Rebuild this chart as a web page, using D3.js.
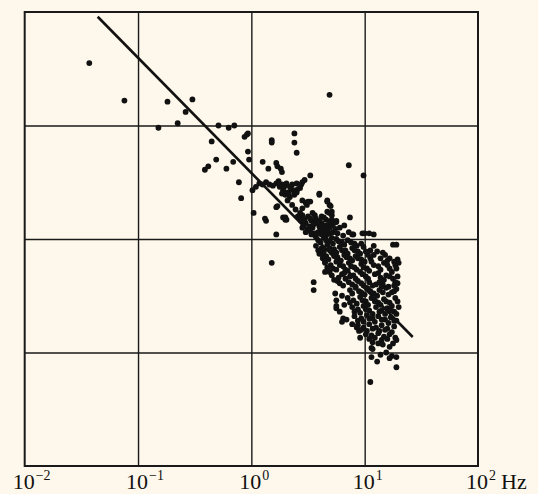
<!doctype html>
<html>
<head>
<meta charset="UTF-8">
<title>Spectrum scatter</title>
<script src="https://d3js.org/d3.v7.min.js"></script>
<style>
  body { margin: 0; background: #fdf8eb; }
  svg { display: block; }
</style>
</head>
<body>
<script>
// log10(frequency in Hz), log10(relative amplitude) pairs
var sparsePts = [
  [-1.43,-0.45],[-1.12,-0.78],[-0.74,-0.79],[-0.52,-0.77],[-0.58,-0.88],[-0.65,-0.98],
  [-0.82,-1.02],[-0.29,-1.00],[-0.20,-1.02],[-0.15,-1.00],[-0.04,-1.08],[-0.06,-1.10],
  [-0.03,-1.07],[-0.35,-1.14],[-0.31,-1.30],[-0.38,-1.36],[-0.41,-1.39],[-0.22,-1.38],
  [-0.16,-1.32],[-0.03,-1.23],[-0.02,-1.30],[0.10,-1.32],[-0.11,-1.50],[-0.09,-1.64],
  [0.02,-1.77],[0.13,-1.84],[0.12,-1.82],[0.69,-0.73],[0.18,-1.13],[0.18,-1.15],
  [0.38,-1.07],[0.38,-1.15],[0.40,-1.24],[0.86,-1.35],[0.99,-1.44],[0.52,-1.44],
  [0.18,-2.21],[0.22,-1.96]
];
var bandPts = [
  [0.07,-1.51],[0.13,-1.50],[0.16,-1.52],[0.22,-1.33],[0.23,-1.36],[0.26,-1.38],
  [0.27,-1.41],[0.15,-1.38],[0.01,-1.57],[0.04,-1.54],[0.10,-1.52],[0.22,-1.51],
  [0.27,-1.52],[0.31,-1.51],[0.36,-1.52],[0.40,-1.51],[0.45,-1.50],[0.47,-1.48],
  [0.28,-1.57],[0.32,-1.59],[0.37,-1.57],[0.30,-1.61],[0.34,-1.63],[0.38,-1.61],
  [0.43,-1.55],[0.25,-1.54],[0.34,-1.54],[0.40,-1.59],[0.60,-1.61],[0.45,-1.66],
  [0.50,-1.67],[0.49,-1.70],[0.45,-1.73],[0.67,-1.67],[0.69,-1.70],[0.71,-1.76],
  [0.67,-1.76],[0.71,-1.79],[0.22,-1.72],[0.28,-1.81],[0.30,-1.83],[0.23,-1.71],
  [0.30,-1.81],[0.31,-1.83],[0.48,-1.68],[0.52,-1.67],[0.60,-1.60],[0.67,-1.66],
  [0.70,-1.71],[0.69,-1.77],[0.75,-1.85],[0.87,-1.81],[0.86,-1.94],[0.90,-1.96],
  [1.00,-1.95],[1.04,-1.95],[1.08,-1.96],[0.98,-1.95],[0.89,-1.96],
  [0.36,-1.70],[0.39,-1.74],[0.43,-1.77],[0.32,-1.66],
  [0.29,-1.54],[0.35,-1.56],[0.41,-1.56],[0.33,-1.60],[0.27,-1.60],[0.44,-1.52],
  [0.24,-1.49],[0.19,-1.53]
];
var core1Pts = [
  [0.41,-1.80],[0.45,-1.79],[0.50,-1.80],[0.54,-1.77],[0.57,-1.82],[0.62,-1.80],
  [0.66,-1.83],[0.71,-1.83],[0.75,-1.84],[0.44,-1.84],[0.48,-1.86],[0.53,-1.84],
  [0.57,-1.86],[0.62,-1.86],[0.66,-1.88],[0.71,-1.88],[0.45,-1.90],[0.50,-1.92],
  [0.54,-1.90],[0.59,-1.94],[0.63,-1.92],[0.67,-1.92],[0.72,-1.94],[0.53,-1.96],
  [0.57,-1.98],[0.62,-1.96],[0.78,-1.90],[0.82,-1.88],[0.81,-1.97],[0.76,-1.95],
  [0.66,-1.97],[0.71,-1.99],
  [0.43,-1.82],[0.47,-1.83],[0.52,-1.82],[0.56,-1.79],[0.60,-1.84],[0.64,-1.81],
  [0.69,-1.85],[0.73,-1.86],[0.46,-1.88],[0.51,-1.89],[0.55,-1.87],[0.60,-1.89],
  [0.64,-1.90],[0.69,-1.90],[0.48,-1.94],[0.52,-1.93],[0.56,-1.95],[0.61,-1.92],
  [0.65,-1.94],[0.69,-1.95],[0.74,-1.91],[0.58,-1.95]
];
var core2Pts = [
  [0.59,-2.01],[0.64,-1.99],[0.69,-2.02],[0.75,-2.00],[0.80,-2.03],[0.85,-2.01],[0.91,-2.04],
  [0.57,-2.06],[0.62,-2.08],[0.67,-2.05],[0.73,-2.09],[0.78,-2.07],[0.83,-2.10],[0.89,-2.08],
  [0.94,-2.11],[0.99,-2.07],[0.60,-2.13],[0.66,-2.15],[0.71,-2.12],[0.76,-2.16],[0.82,-2.14],
  [0.87,-2.17],[0.92,-2.15],[0.97,-2.18],[1.03,-2.14],[0.65,-2.20],[0.70,-2.23],[0.75,-2.20],
  [0.81,-2.24],[0.86,-2.21],[0.91,-2.25],[0.97,-2.22],[1.02,-2.26],[0.69,-2.29],[0.75,-2.27],
  [0.80,-2.31],[0.85,-2.28],[0.90,-2.32],[0.96,-2.29],[1.01,-2.33],[0.73,-2.36],[0.78,-2.39],
  [0.83,-2.35],[0.89,-2.40],[0.94,-2.37],[0.99,-2.41],
  [1.06,-2.20],[1.12,-2.24],[1.17,-2.21],[1.22,-2.26],[1.27,-2.23],[1.09,-2.31],[1.14,-2.34],
  [1.19,-2.32],[1.25,-2.35],[1.29,-2.33],[1.04,-2.38],[1.10,-2.40],[1.15,-2.42],[1.05,-2.10],
  [1.11,-2.11],[1.16,-2.12],[1.18,-2.14],[1.22,-2.17],[1.29,-2.18],[1.30,-2.21],[1.25,-2.05],
  [1.28,-2.05],[0.63,-2.14],[0.65,-2.21],[0.65,-2.29],[0.55,-2.38],[0.55,-2.45],
  [0.61,-2.03],[0.66,-2.01],[0.72,-2.04],[0.77,-2.02],[0.82,-2.05],[0.88,-2.03],[0.93,-2.06],
  [0.97,-2.04],[0.59,-2.10],[0.64,-2.11],[0.69,-2.08],[0.75,-2.12],[0.80,-2.10],[0.85,-2.13],
  [0.91,-2.10],[0.96,-2.13],[1.01,-2.11],[0.63,-2.17],[0.68,-2.18],[0.73,-2.15],[0.79,-2.19],
  [0.84,-2.16],[0.89,-2.19],[0.94,-2.17],[1.00,-2.20],[1.05,-2.17],[0.67,-2.25],[0.72,-2.26],
  [0.78,-2.23],[0.83,-2.27],[0.88,-2.24],[0.93,-2.27],[0.99,-2.25],[1.04,-2.28],[0.71,-2.32],
  [0.77,-2.34],[0.82,-2.30],[0.87,-2.33],[0.92,-2.35],[0.98,-2.31],[1.03,-2.35],[0.76,-2.37],
  [0.81,-2.41],[0.86,-2.38],[0.92,-2.42],[0.97,-2.39],[1.02,-2.43],
  [1.08,-2.23],[1.14,-2.27],[1.20,-2.23],[1.24,-2.29],[1.28,-2.26],[1.12,-2.30],[1.17,-2.36],
  [1.22,-2.33],[1.27,-2.38],[1.07,-2.41],[1.13,-2.38],[1.08,-2.14],[1.14,-2.17],[1.20,-2.19],
  [1.26,-2.20],[1.08,-2.06]
];
var core3Pts = [
  [0.87,-2.45],[0.92,-2.43],[0.97,-2.47],[1.03,-2.44],[1.08,-2.48],[1.13,-2.45],[1.19,-2.43],
  [1.24,-2.47],[1.28,-2.44],[0.85,-2.52],[0.90,-2.54],[0.96,-2.51],[1.01,-2.55],[1.06,-2.52],
  [1.12,-2.56],[1.17,-2.53],[1.22,-2.56],[1.27,-2.52],[0.89,-2.60],[0.94,-2.62],[0.99,-2.59],
  [1.04,-2.63],[1.10,-2.60],[1.15,-2.63],[1.20,-2.61],[1.26,-2.64],[1.30,-2.60],[0.91,-2.68],
  [0.97,-2.70],[1.02,-2.67],[1.07,-2.70],[1.12,-2.68],[1.18,-2.71],[1.23,-2.69],[1.28,-2.72],
  [0.94,-2.76],[0.99,-2.78],[1.04,-2.75],[1.10,-2.78],[1.15,-2.76],[1.20,-2.79],[1.26,-2.77],
  [1.01,-2.84],[1.06,-2.85],[1.12,-2.83],[1.17,-2.86],[1.22,-2.84],[1.27,-2.87],
  [0.74,-2.48],[0.75,-2.54],[0.75,-2.61],[0.78,-2.64],[0.81,-2.70],[0.80,-2.73],[0.84,-2.71],
  [0.89,-2.75],[0.93,-2.78],[0.95,-2.81],[0.75,-2.59],[0.80,-2.50],[0.82,-2.58],
  [0.89,-2.48],[0.95,-2.46],[1.00,-2.49],[1.05,-2.46],[1.11,-2.50],[1.16,-2.47],[1.21,-2.49],
  [1.26,-2.46],[0.87,-2.56],[0.93,-2.57],[0.98,-2.54],[1.03,-2.58],[1.09,-2.55],[1.14,-2.58],
  [1.19,-2.55],[1.24,-2.59],[1.29,-2.55],[0.91,-2.64],[0.96,-2.65],[1.01,-2.62],[1.07,-2.66],
  [1.13,-2.64],[1.18,-2.66],[1.23,-2.63],[1.28,-2.66],[0.94,-2.72],[0.99,-2.73],[1.04,-2.70],
  [1.09,-2.73],[1.15,-2.71],[1.21,-2.74],[1.26,-2.72],[0.97,-2.80],[1.02,-2.81],[1.07,-2.79],
  [1.13,-2.81],[1.18,-2.80],[1.24,-2.82],[1.04,-2.88],[1.09,-2.87],[1.15,-2.89],[1.20,-2.88],
  [1.16,-2.40],[1.21,-2.42],[1.26,-2.41],[1.29,-2.39]
];
var tailPts = [
  [0.96,-2.87],[1.07,-2.91],[1.12,-2.92],[1.16,-2.93],[1.06,-2.96],[1.22,-2.95],[1.25,-2.92],
  [1.28,-2.89],[1.07,-2.97],[1.06,-3.04],[1.11,-3.08],[1.14,-3.02],[1.22,-3.05],[1.24,-3.03],
  [1.28,-3.04],[1.28,-3.13],[1.05,-3.26],[1.19,-3.00]
];

// fitted line: log A = fitIntercept + fitSlope * log f, drawn between fitRange
var fitSlope = -1.015;
var fitIntercept = -1.418;
var fitRange = [-1.356, 1.424];

var xTicks = [1e-2, 1e-1, 1, 10, 100];
var xTickExp = ["\u22122", "\u22121", "0", "1", "2"];
var yGrid = [1e-3, 1e-2, 1e-1];

var W = 538, H = 494;
var m = {left: 24.7, right: 478, top: 12, bottom: 466};

var svg = d3.select("body").append("svg")
  .attr("width", W).attr("height", H);

svg.append("rect").attr("width", W).attr("height", H).attr("fill", "#fdf8eb");

var x = d3.scaleLog().domain([1e-2, 1e2]).range([m.left, m.right]);
var y = d3.scaleLog().domain([1e-4, 1]).range([m.bottom, m.top]);

// grid
svg.append("g")
  .attr("transform", "translate(0," + m.bottom + ")")
  .call(d3.axisBottom(x).tickValues([0.1, 1, 10]).tickSize(-(m.bottom - m.top)).tickFormat(""))
  .call(function(g){
    g.select(".domain").remove();
    g.selectAll("line").attr("stroke", "#1a1a1a").attr("stroke-width", 1.4);
  });

svg.append("g")
  .attr("transform", "translate(" + m.left + ",0)")
  .call(d3.axisLeft(y).tickValues(yGrid).tickSize(-(m.right - m.left)).tickFormat(""))
  .call(function(g){
    g.select(".domain").remove();
    g.selectAll("line").attr("stroke", "#1a1a1a").attr("stroke-width", 1.4);
  });

svg.append("rect")
  .attr("x", m.left).attr("y", m.top)
  .attr("width", m.right - m.left).attr("height", m.bottom - m.top)
  .attr("fill", "none").attr("stroke", "#1a1a1a").attr("stroke-width", 2);

// fitted line
var fitPts = fitRange.map(function(lf){ return [Math.pow(10, lf), Math.pow(10, fitIntercept + fitSlope * lf)]; });
svg.append("path")
  .attr("d", d3.line().x(function(d){ return x(d[0]); }).y(function(d){ return y(d[1]); })(fitPts))
  .attr("stroke", "#111").attr("stroke-width", 2.6).attr("fill", "none");

// scatter
var all = [].concat(sparsePts, bandPts, core1Pts, core2Pts, core3Pts, tailPts);
svg.append("g").selectAll("circle")
  .data(all)
  .enter().append("circle")
  .attr("cx", function(d){ return x(Math.pow(10, d[0])); })
  .attr("cy", function(d){ return y(Math.pow(10, d[1])); })
  .attr("r", 2.9)
  .attr("fill", "#111");

// tick labels
var lab = svg.append("g")
  .attr("font-family", "'Liberation Serif', 'DejaVu Serif', serif")
  .attr("fill", "#111");

xTicks.forEach(function(t, i){
  var tx = x(t);
  var txt = lab.append("text")
    .attr("x", tx - 12)
    .attr("y", 489)
    .attr("font-size", 22);
  txt.append("tspan").text("10");
  txt.append("tspan").attr("font-size", 14).attr("dy", -9).attr("dx", 1).text(xTickExp[i]);
  if (i === xTicks.length - 1) {
    txt.append("tspan").attr("dy", 9).attr("dx", 5).text("Hz");
  }
});
</script>
</body>
</html>
